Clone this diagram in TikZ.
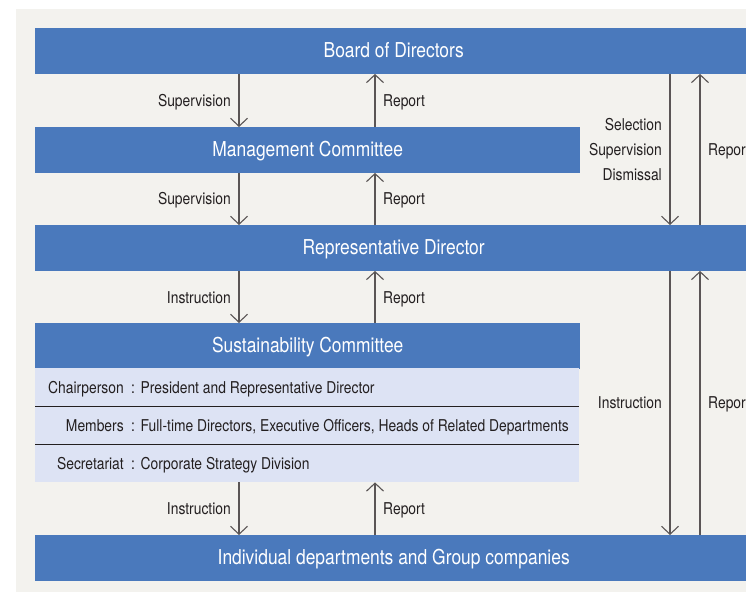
\documentclass[tikz,border=0pt]{standalone}
\usepackage{fontspec}
\setmainfont{TeX Gyre Heros}[FakeStretch=0.85]
\usetikzlibrary{arrows.meta}
\definecolor{boxblue}{RGB}{74,121,188}
\definecolor{rowfill}{RGB}{221,227,244}
\definecolor{panel}{RGB}{243,242,238}
\definecolor{linegray}{RGB}{90,85,85}
\definecolor{txt}{RGB}{35,31,32}
\begin{document}
\begin{tikzpicture}[x=1pt,y=-1pt,
  box/.style={fill=boxblue, text=white, inner sep=0, anchor=north west, minimum height=45.5pt,
    font=\fontsize{20.5}{24}\selectfont, text height=15pt, text depth=1pt},
  row/.style={fill=rowfill, inner sep=0, anchor=north west, minimum width=544pt, minimum height=38pt},
  lbl/.style={text=txt, inner sep=0, font=\fontsize{16.3}{19}\selectfont},
  conn/.style={draw=linegray, line width=1.1pt, -{Straight Barb[length=8pt,width=17pt]}},
  sep/.style={draw=txt, line width=1.2pt}]
\useasboundingbox (0,0) rectangle (746,592);
\clip (0,0) rectangle (746,592);
\fill[white] (0,0) rectangle (746,592);
\fill[panel] (16,9) rectangle (746,592);
% boxes
\node[box, minimum width=717pt] (board) at (35,28) {Board of Directors};
\node[box, minimum width=545pt] (mgmt) at (35,127) {Management Committee};
\node[box, minimum width=717pt] (rep) at (35,225) {Representative Director};
\node[box, minimum width=545pt] (sust) at (35,323) {Sustainability Committee};
\node[row] (row1) at (35,368) {};
\node[row] (row2) at (35,406) {};
\node[row] (row3) at (35,444) {};
\node[box, minimum width=717pt] (ind) at (35,535) {Individual departments and Group companies};
\draw[sep] (row1.south west) -- (row1.south east);
\draw[sep] (row2.south west) -- (row2.south east);
% row texts
\node[lbl, anchor=base east] (r1a) at (124,393) {Chairperson};
\node[lbl, anchor=base] (r1c) at (133,393) {:};
\node[lbl, anchor=base west] (r1b) at (140.5,393) {President and Representative Director};
\node[lbl, anchor=base east] (r2a) at (124,431) {Members};
\node[lbl, anchor=base] (r2c) at (133,431) {:};
\node[lbl, anchor=base west] (r2b) at (140.5,431) {Full-time Directors, Executive Officers, Heads of Related Departments};
\node[lbl, anchor=base east] (r3a) at (124,469) {Secretariat};
\node[lbl, anchor=base] (r3c) at (133,469) {:};
\node[lbl, anchor=base west] (r3b) at (140.5,469) {Corporate Strategy Division};
% connector x positions
\coordinate (xl) at (239,0);
\coordinate (xr) at (375,0);
\coordinate (xd) at (670,0);
\coordinate (xu) at (700,0);
% left column connectors
\draw[conn] (board.south -| xl) -- (mgmt.north -| xl);
\draw[conn] (mgmt.north -| xr) -- (board.south -| xr);
\draw[conn] (mgmt.south -| xl) -- (rep.north -| xl);
\draw[conn] (rep.north -| xr) -- (mgmt.south -| xr);
\draw[conn] (rep.south -| xl) -- (sust.north -| xl);
\draw[conn] (sust.north -| xr) -- (rep.south -| xr);
\draw[conn] (row3.south -| xl) -- (ind.north -| xl);
\draw[conn] (ind.north -| xr) -- (row3.south -| xr);
% right column connectors
\draw[conn] (board.south -| xd) -- (rep.north -| xd);
\draw[conn] (rep.north -| xu) -- (board.south -| xu);
\draw[conn] (rep.south -| xd) -- (ind.north -| xd);
\draw[conn] (ind.north -| xu) -- (rep.south -| xu);
% labels
\node[lbl, anchor=base east] (l1) at (231,106.5) {Supervision};
\node[lbl, anchor=base west] (l2) at (383,106.5) {Report};
\node[lbl, anchor=base east] (l3) at (231,204.5) {Supervision};
\node[lbl, anchor=base west] (l4) at (383,204.5) {Report};
\node[lbl, anchor=base east] (l5) at (231,303.5) {Instruction};
\node[lbl, anchor=base west] (l6) at (383,303.5) {Report};
\node[lbl, anchor=base east] (l7) at (231,514.5) {Instruction};
\node[lbl, anchor=base west] (l8) at (383,514.5) {Report};
\node[lbl, anchor=base east] (r1) at (662,130.5) {Selection};
\node[lbl, anchor=base east] (r2) at (662,155.5) {Supervision};
\node[lbl, anchor=base east] (r3) at (662,180.5) {Dismissal};
\node[lbl, anchor=base west] (r4) at (708,155.5) {Report};
\node[lbl, anchor=base east] (r5) at (662,408.5) {Instruction};
\node[lbl, anchor=base west] (r6) at (708,408.5) {Report};
\end{tikzpicture}
\end{document}
